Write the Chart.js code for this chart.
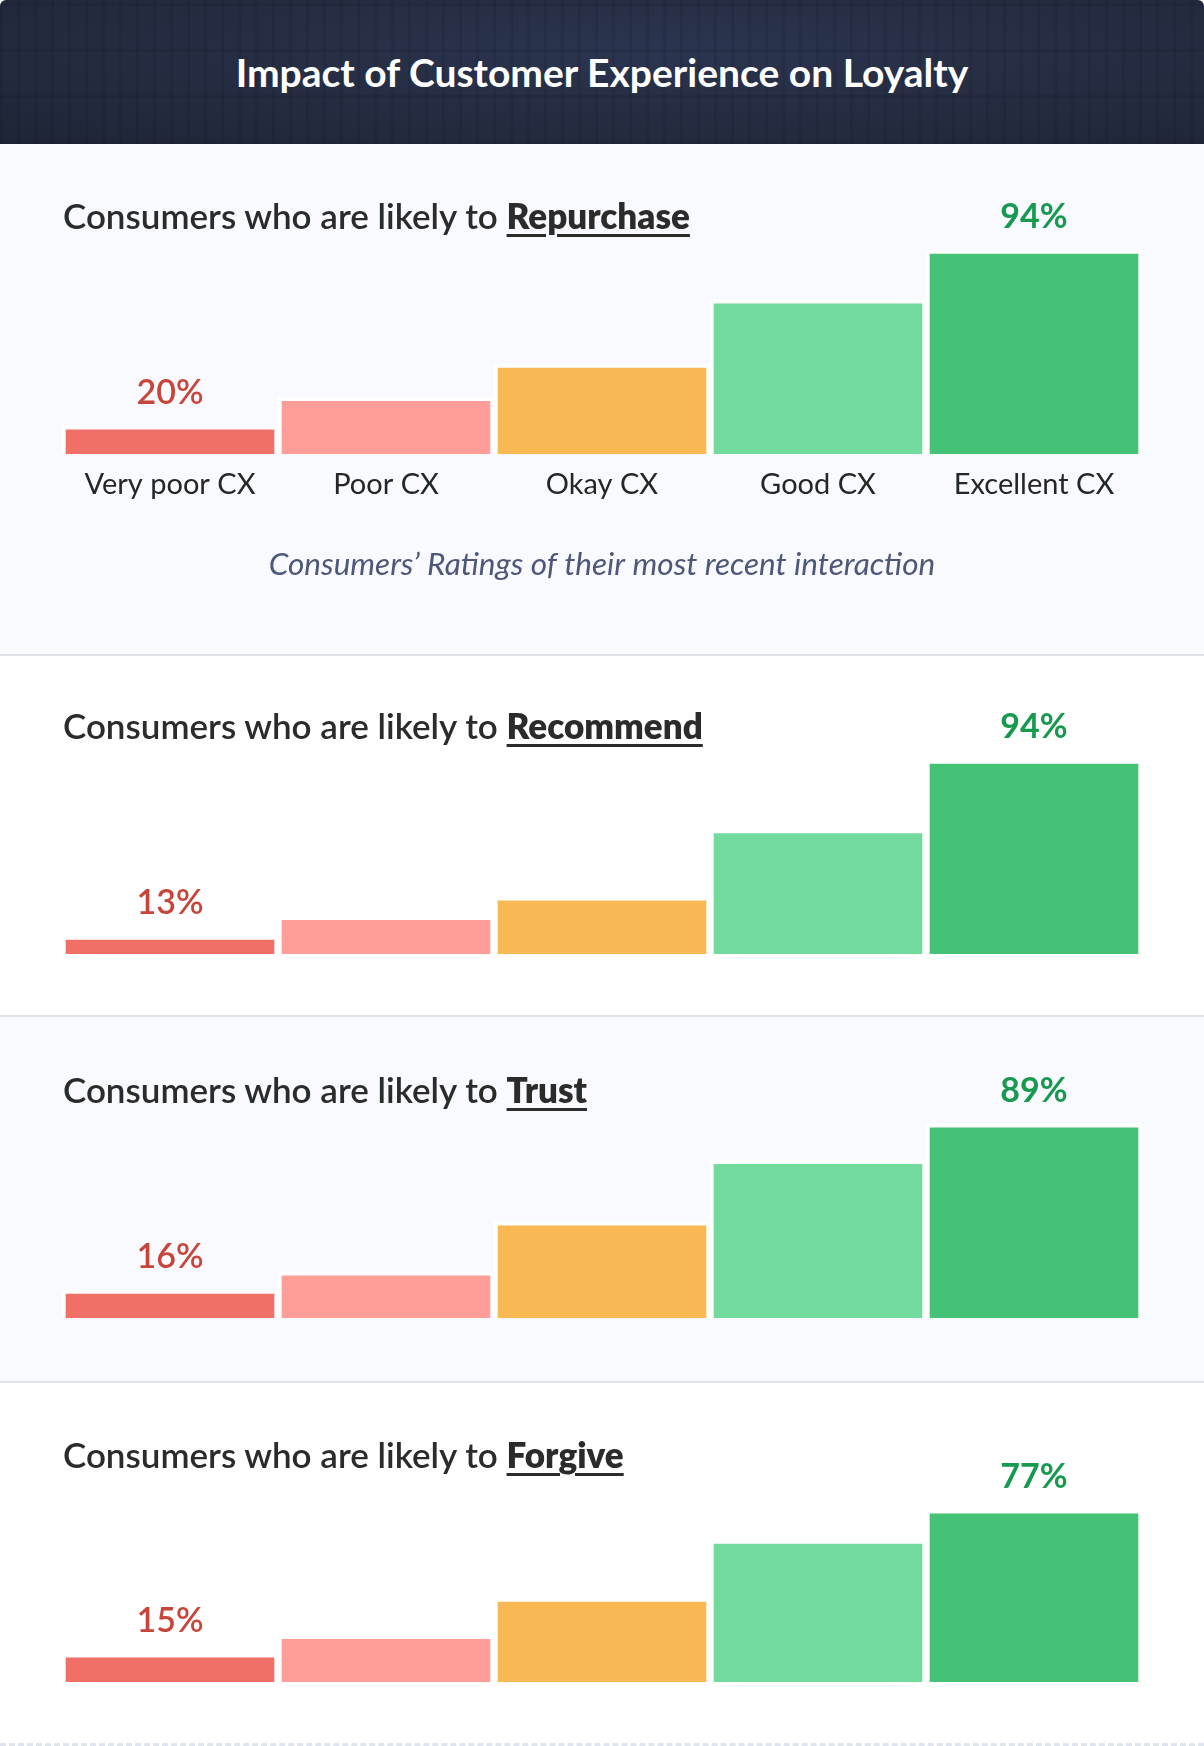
<!DOCTYPE html>
<html lang="en">
  <head>
    <meta charset="UTF-8" />
    <title>Impact of Customer Experience on Loyalty</title>
    <script src="https://cdn.jsdelivr.net/npm/chart.js@4.4.1/dist/chart.umd.min.js"></script>
    <style>
      body {
        margin: 0;
        width: 1204px;
        height: 1746px;
        position: relative;
        font-family: Lato, 'Open Sans', sans-serif;
        background: #ffffff;
        overflow: hidden;
      }
      .header {
        position: absolute;
        left: 0;
        top: 0;
        width: 1204px;
        height: 144px;
        border-radius: 6px 6px 0 0;
        background:
          repeating-linear-gradient(90deg, rgba(12, 16, 28, 0.13) 0 3px, transparent 3px 17px),
          repeating-linear-gradient(0deg, rgba(12, 16, 28, 0.12) 0 3px, transparent 3px 46px),
          radial-gradient(ellipse at 55% 35%, #2c3550 0%, #242c41 55%, #1e2536 100%);
      }
      .header h1 {
        margin: 0;
        position: absolute;
        left: 0;
        width: 1204px;
        top: 50px;
        line-height: 44px;
        text-align: center;
        color: #ffffff;
        font-size: 39px;
        font-weight: 700;
      }
      .section {
        position: absolute;
        left: 0;
        width: 1204px;
      }
      .section canvas {
        position: absolute;
        left: 0;
        top: 0;
      }
      .light {
        background: #f8faff;
      }
      .line {
        border-bottom: 2px solid #dde3e6;
      }
      .title {
        position: absolute;
        left: 63px;
        margin: 0;
        line-height: 40px;
        font-size: 35px;
        font-weight: 600;
        color: #2b2b2b;
        z-index: 2;
      }
      .title span {
        font-weight: 800;
        text-decoration: underline;
        text-decoration-thickness: 3px;
        text-underline-offset: 5px;
      }
    </style>
  </head>
  <body>
    <div class="header">
      <h1>Impact of Customer Experience on Loyalty</h1>
    </div>

    <div class="section light line" style="top: 144px; height: 510px">
      <h2 class="title" style="top: 51px">Consumers who are likely to <span>Repurchase</span></h2>
      <canvas id="chart1" width="1204" height="510"></canvas>
    </div>

    <div class="section line" style="top: 656px; height: 359px">
      <h2 class="title" style="top: 49px">Consumers who are likely to <span>Recommend</span></h2>
      <canvas id="chart2" width="1204" height="359"></canvas>
    </div>

    <div class="section light line" style="top: 1017px; height: 364px">
      <h2 class="title" style="top: 52px">Consumers who are likely to <span>Trust</span></h2>
      <canvas id="chart3" width="1204" height="364"></canvas>
    </div>

    <div class="section" style="top: 1383px; height: 360px; border-bottom: 3px dashed #dfe5ee">
      <h2 class="title" style="top: 51px">Consumers who are likely to <span>Forgive</span></h2>
      <canvas id="chart4" width="1204" height="360"></canvas>
    </div>

    <script>
      var categories = ['Very poor CX', 'Poor CX', 'Okay CX', 'Good CX', 'Excellent CX'];

      // share of consumers (%) per CX rating
      var repurchase = [20, 32, 46, 73, 94];
      var recommend = [13, 22, 31, 62, 94];
      var trust = [16, 24, 46, 73, 89];
      var forgive = [15, 23, 39, 64, 77];

      var axisTitle = 'Consumers\u2019 Ratings of their most recent interaction';

      var barColors = ['#f06f67', '#ff9e98', '#f8b853', '#72da9c', '#44c275'];

      Chart.defaults.font.family = 'Lato, "Open Sans", sans-serif';

      // value labels over the first and last bar
      var pctLabels = {
        id: 'pctLabels',
        afterDatasetsDraw: function (chart) {
          var ctx = chart.ctx;
          var meta = chart.getDatasetMeta(0);
          var vals = chart.data.datasets[0].data;
          var last = vals.length - 1;
          var items = [
            [0, '#c8453b', '600 34px Lato'],
            [last, '#17994f', 'bold 34px Lato'],
          ];
          ctx.save();
          ctx.textAlign = 'center';
          ctx.textBaseline = 'middle';
          items.forEach(function (it) {
            var bar = meta.data[it[0]];
            ctx.font = it[2];
            ctx.fillStyle = it[1];
            ctx.fillText(vals[it[0]] + '%', bar.x, bar.y - 33);
          });
          ctx.restore();
        },
      };

      function makeChart(id, values, yMin, yMax, pad, showAxis) {
        var xAxis = { display: false };
        if (showAxis) {
          xAxis = {
            display: true,
            grid: { display: false, drawTicks: false },
            border: { display: false },
            ticks: {
              color: '#262626',
              padding: 13,
              font: { size: 29 },
            },
            title: {
              display: true,
              text: axisTitle,
              color: '#4d5779',
              font: { size: 31.5, style: 'italic' },
              padding: { top: 0, bottom: 70 },
            },
            afterFit: function (scale) {
              scale.height = 200;
            },
          };
        }
        return new Chart(document.getElementById(id), {
          type: 'bar',
          data: {
            labels: categories,
            datasets: [
              {
                data: values,
                backgroundColor: barColors,
                borderColor: '#ffffff',
                borderWidth: 4,
                borderSkipped: false,
                barPercentage: 1,
                categoryPercentage: 1,
              },
            ],
          },
          options: {
            responsive: false,
            animation: false,
            layout: { padding: pad },
            plugins: {
              legend: { display: false },
              tooltip: { enabled: false },
            },
            scales: {
              x: xAxis,
              y: { display: false, min: yMin, max: yMax },
            },
          },
          plugins: [pctLabels],
        });
      }

      makeChart('chart1', repurchase, 8.2, 102.4, { left: 62, right: 62, top: 86, bottom: 0 }, true);
      makeChart('chart2', recommend, 4.7, 103.2, { left: 62, right: 62, top: 84, bottom: 61 }, false);
      makeChart('chart3', trust, 3.7, 99.5, { left: 62, right: 62, top: 83, bottom: 63 }, false);
      makeChart('chart4', forgive, 2.9, 89.9, { left: 62, right: 62, top: 97, bottom: 61 }, false);
    </script>
  </body>
</html>
